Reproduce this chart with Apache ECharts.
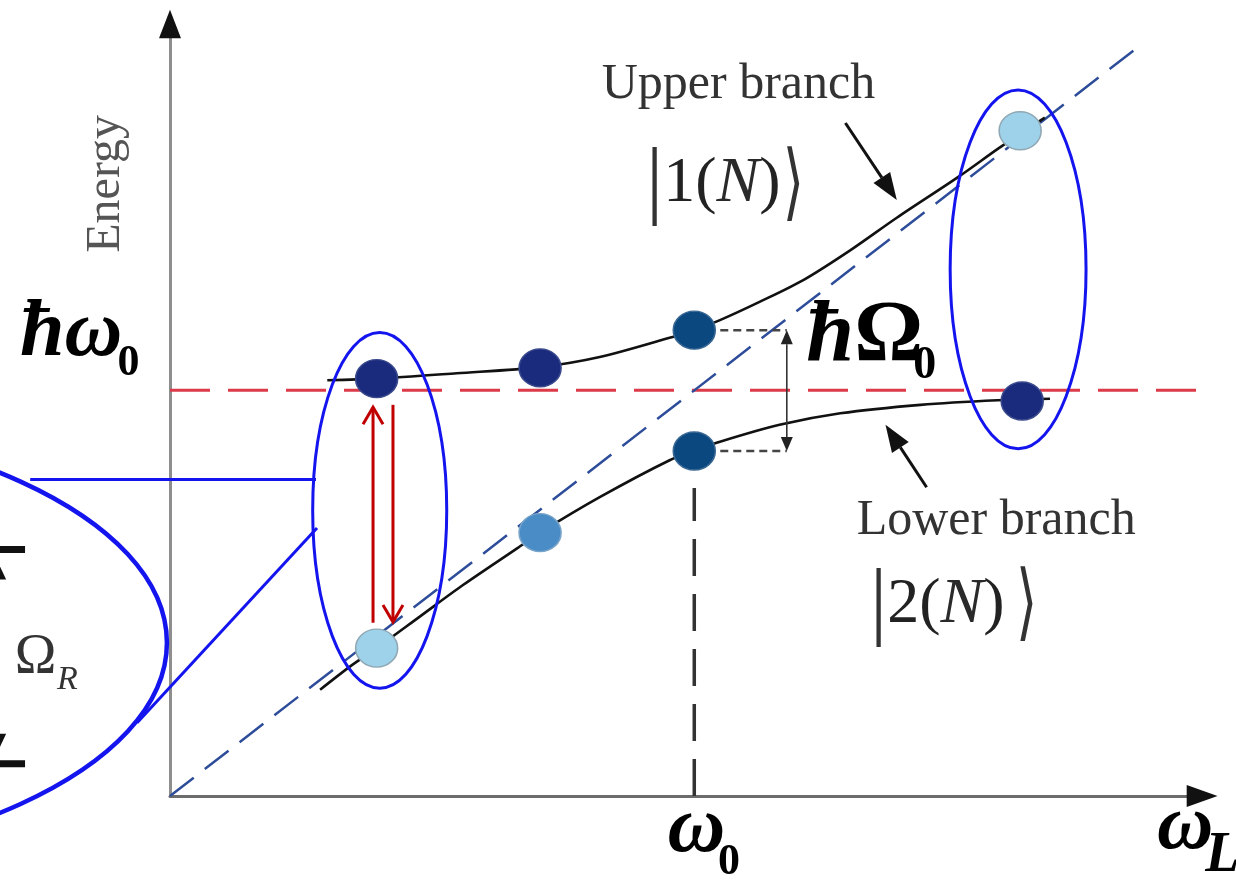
<!DOCTYPE html>
<html>
<head>
<meta charset="utf-8">
<title>Dressed-state anticrossing: upper and lower branch</title>
<script src="https://cdn.jsdelivr.net/npm/echarts@6.0.0/dist/echarts.min.js"></script>
<style>
  html, body { margin: 0; padding: 0; background: #ffffff; }
  #main { width: 1236px; height: 880px; }
</style>
</head>
<body>
<div id="main"></div>
<script>
// ---------------- data (x: laser frequency ω_L, y: energy, arbitrary units) ----------------
const omega0 = 5.10;            // bare transition frequency ω0
const hbarOmega0 = 5.27;        // bare level ħω0

const upperBranch = [
  [1.53, 5.40], [2.01, 5.42], [2.79, 5.49], [3.60, 5.57], [4.18, 5.70], [4.86, 5.95],
  [5.10, 6.05], [5.35, 6.18], [5.74, 6.42], [6.16, 6.70], [6.62, 7.09], [7.07, 7.51],
  [7.68, 8.05], [8.07, 8.42], [8.51, 8.81]
];
const lowerBranch = [
  [1.46, 1.38], [1.75, 1.68], [2.01, 1.92], [2.43, 2.33], [2.85, 2.74], [3.38, 3.22],
  [3.60, 3.42], [4.18, 3.88], [4.86, 4.36], [5.10, 4.48], [5.35, 4.60], [5.93, 4.82],
  [6.52, 4.97], [7.30, 5.08], [8.05, 5.14], [8.56, 5.16]
];
const photonLine = [[0, 0], [9.42, 9.73]];
const levelLine = [[0, hbarOmega0], [10.21, hbarOmega0]];
const omega0Guide = [[omega0, 0], [omega0, 4.0]];

// dressed states marked on each branch, with their excitonic weight
const upperStates = [[2.01, 5.42], [3.60, 5.56], [omega0, 6.05], [8.27, 8.64]];
const upperWeights = [0.95, 0.85, 0.5, 0.05];
const lowerStates = [[2.01, 1.92], [3.60, 3.42], [omega0, 4.48], [8.29, 5.13]];
const lowerWeights = [0.05, 0.3, 0.5, 0.95];

// splitting ħΩ0 at resonance: marker x, upper level, lower level
const splitX = 6.00;
const splitTop = upperStates[2][1];
const splitBottom = lowerStates[2][1];

// highlighted state pairs [cx, cy, rx, ry] and the enlarged view
const stateRings = [[2.04, 3.71, 0.652, 2.31], [8.25, 6.84, 0.661, 2.33]];
const zoomRing = [[-4.89, 1.99, 4.86, 2.96]];
const zoomLeaders = [[-1.36, 4.11, 1.42, 4.11], [-0.32, 0.95, 1.43, 3.48]];

// Rabi oscillation between the two states [x0, y0, x1, y1]
const rabiArrows = [[1.975, 2.25, 1.975, 5.05], [2.169, 5.08, 2.169, 2.26]];
// enlarged Ω_R marker: stem x, top bar, bottom bar, bar left, bar right
const rabiBar = [-1.73, 3.20, 0.42, -1.95, -1.41];

// branch pointers [x0, y0, x1, y1]
const pointers = [[6.57, 8.74, 7.07, 7.74], [7.36, 4.01, 6.96, 4.82]];

// axis arrowheads [baseX, baseY, tipX, tipY]
const axisHeads = [[0, 9.84, 0, 10.21], [9.89, 0, 10.19, 0]];

// text
const labelText = ['Energy', 'ħω', '0', 'ħΩ', '0', 'ω', '0', 'ω', 'L',
  'Upper branch', 'Lower branch', '|1(N)', '⟩', '|2(N)', '⟩', 'Ω', 'R'];
const labelAnchors = [[-0.62, 7.95], [-1.46, 6.00], [-0.51, 5.61], [6.19, 5.95], [7.23, 5.58],
  [4.84, -0.44], [5.33, -0.86], [9.60, -0.42], [10.07, -0.79], [4.20, 9.23], [6.68, 3.57],
  [4.63, 7.94], [5.96, 7.90], [6.81, 2.48], [8.23, 2.44], [-1.51, 1.79], [-1.10, 1.50]];

// ---------------- drawing ----------------
const SERIF = '"Liberation Serif", "Times New Roman", serif';
const RING_BLUE = '#1414ee';

function shade(w) {
  if (w >= 0.7) return { fill: '#1a2a7c', edge: '#3a4a8c' };
  if (w >= 0.45) return { fill: '#0b4880', edge: '#3a6894' };
  if (w >= 0.2) return { fill: '#4a8dc6', edge: '#79a4c9' };
  return { fill: '#9ed2eb', edge: '#90a8b4' };
}

function dotData(points, weights) {
  return points.map((p, i) => {
    const s = shade(weights[i]);
    return { value: p, itemStyle: { color: s.fill, borderColor: s.edge, borderWidth: 1.5, opacity: 1 } };
  });
}

// arrowhead triangle in pixel space: tip, two base corners, base centre
function head(p0, p1, len, half) {
  const dx = p1[0] - p0[0], dy = p1[1] - p0[1];
  const L = Math.hypot(dx, dy) || 1;
  const ux = dx / L, uy = dy / L;
  const bx = p1[0] - ux * len, by = p1[1] - uy * len;
  return {
    pts: [[p1[0], p1[1]], [bx - uy * half, by + ux * half], [bx + uy * half, by - ux * half]],
    base: [bx, by]
  };
}

const labelStyles = [
  { font: '48px ' + SERIF, fill: '#555', align: 'center', rotation: Math.PI / 2 },
  { font: 'italic bold 80px ' + SERIF, fill: '#000' },
  { font: 'bold 44px ' + SERIF, fill: '#000' },
  { hbarOmega: true },
  { font: 'bold 46px ' + SERIF, fill: '#000' },
  { font: 'italic bold 80px ' + SERIF, fill: '#000' },
  { font: 'bold 44px ' + SERIF, fill: '#000' },
  { font: 'italic bold 78px ' + SERIF, fill: '#000' },
  { font: 'italic bold 56px ' + SERIF, fill: '#000' },
  { font: '50px ' + SERIF, fill: '#333' },
  { font: '50px ' + SERIF, fill: '#333' },
  { ket: true },
  { font: '84px "DejaVu Sans", sans-serif', fill: '#333', scaleX: 0.65 },
  { ket: true },
  { font: '84px "DejaVu Sans", sans-serif', fill: '#333', scaleX: 0.65 },
  { font: '56px ' + SERIF, fill: '#333' },
  { font: 'italic 34px ' + SERIF, fill: '#333' }
];

function ketRich(s) {
  const m = s.match(/^\|(\d)\((N)\)$/);
  return '{bar||}{num|' + m[1] + '(}{it|' + m[2] + '}{num|)}';
}

const ketRichStyles = {
  bar: { fontSize: 86, fontFamily: SERIF, fill: '#333', verticalAlign: 'middle' },
  num: { fontSize: 64, fontFamily: SERIF, fill: '#222', verticalAlign: 'middle' },
  it: { fontSize: 64, fontFamily: SERIF, fontStyle: 'italic', fill: '#2a2a2a', verticalAlign: 'middle' }
};

const option = {
  animation: false,
  backgroundColor: '#ffffff',
  grid: { left: 170, right: 38, top: 26, bottom: 84 },
  xAxis: {
    type: 'value', min: 0, max: 10,
    axisLine: { show: true, onZero: false, lineStyle: { color: '#6c6c6c', width: 3 } },
    axisTick: { show: false }, axisLabel: { show: false }, splitLine: { show: false }
  },
  yAxis: {
    type: 'value', min: 0, max: 10,
    axisLine: { show: true, onZero: false, lineStyle: { color: '#8e8e8e', width: 3 } },
    axisTick: { show: false }, axisLabel: { show: false }, splitLine: { show: false }
  },
  series: [
    {
      name: 'ħω0', type: 'line', data: levelLine, symbol: 'none', clip: false, silent: true, z: 1,
      lineStyle: { color: '#dc3a48', width: 3, type: [40, 18] }
    },
    {
      name: 'photon', type: 'line', data: photonLine, symbol: 'none', clip: false, silent: true, z: 1,
      lineStyle: { color: '#2d4c9a', width: 2.5, type: [30, 14] }
    },
    {
      name: 'ω0', type: 'line', data: omega0Guide, symbol: 'none', clip: false, silent: true, z: 1,
      lineStyle: { color: '#333333', width: 3.5, type: [37, 18] }
    },
    {
      name: 'Upper branch', type: 'line', data: upperBranch, smooth: 0.3,
      symbol: 'none', clip: false, silent: true, z: 2, lineStyle: { color: '#111111', width: 2.6 }
    },
    {
      name: 'Lower branch', type: 'line', data: lowerBranch, smooth: 0.3,
      symbol: 'none', clip: false, silent: true, z: 2, lineStyle: { color: '#111111', width: 2.6 }
    },
    {
      // splitting marker: dashed level ties and double-headed arrow
      name: 'splitting', type: 'custom', clip: false, silent: true, z: 3,
      data: [[splitX, splitTop, splitBottom]],
      renderItem(params, api) {
        const top = api.coord([omega0, api.value(1)]);
        const topEnd = api.coord([api.value(0), api.value(1)]);
        const bot = api.coord([omega0, api.value(2)]);
        const botEnd = api.coord([api.value(0), api.value(2)]);
        const up = head(botEnd, topEnd, 14, 6);
        const down = head(topEnd, botEnd, 14, 6);
        const dash = { stroke: '#444', lineWidth: 2.5, lineDash: [8, 5] };
        return {
          type: 'group', children: [
            { type: 'line', shape: { x1: top[0], y1: top[1], x2: topEnd[0], y2: topEnd[1] }, style: dash },
            { type: 'line', shape: { x1: bot[0], y1: bot[1], x2: botEnd[0], y2: botEnd[1] }, style: dash },
            { type: 'line', shape: { x1: up.base[0], y1: up.base[1], x2: down.base[0], y2: down.base[1] }, style: { stroke: '#333', lineWidth: 1.6 } },
            { type: 'polygon', shape: { points: up.pts }, style: { fill: '#222' } },
            { type: 'polygon', shape: { points: down.pts }, style: { fill: '#222' } }
          ]
        };
      }
    },
    {
      name: 'rings', type: 'custom', clip: false, silent: true, z: 4,
      data: stateRings.concat(zoomRing),
      renderItem(params, api) {
        const c = api.coord([api.value(0), api.value(1)]);
        const s = api.size([api.value(2), api.value(3)]);
        const big = params.dataIndex >= stateRings.length;
        return {
          type: 'ellipse', shape: { cx: c[0], cy: c[1], rx: s[0], ry: s[1] },
          style: { fill: 'none', stroke: RING_BLUE, lineWidth: big ? 4.5 : 3 }
        };
      }
    },
    {
      name: 'leaders', type: 'custom', clip: false, silent: true, z: 4,
      data: zoomLeaders,
      renderItem(params, api) {
        const a = api.coord([api.value(0), api.value(1)]);
        const b = api.coord([api.value(2), api.value(3)]);
        return { type: 'line', shape: { x1: a[0], y1: a[1], x2: b[0], y2: b[1] }, style: { stroke: RING_BLUE, lineWidth: 3 } };
      }
    },
    {
      name: 'Rabi', type: 'custom', clip: false, silent: true, z: 5,
      data: rabiArrows,
      renderItem(params, api) {
        const a = api.coord([api.value(0), api.value(1)]);
        const b = api.coord([api.value(2), api.value(3)]);
        const h = head(a, b, 17, 10);
        return {
          type: 'group', children: [
            { type: 'line', shape: { x1: a[0], y1: a[1], x2: b[0], y2: b[1] }, style: { stroke: '#c00000', lineWidth: 3 } },
            { type: 'polyline', shape: { points: [h.pts[1], h.pts[0], h.pts[2]] }, style: { stroke: '#c00000', lineWidth: 3, fill: 'none' } }
          ]
        };
      }
    },
    {
      name: 'Ω_R bar', type: 'custom', clip: false, silent: true, z: 5,
      data: [rabiBar],
      renderItem(params, api) {
        const x = api.value(0);
        const t = api.coord([x, api.value(1)]);
        const b = api.coord([x, api.value(2)]);
        const tl = api.coord([api.value(3), api.value(1)]);
        const tr = api.coord([api.value(4), api.value(1)]);
        const bl = api.coord([api.value(3), api.value(2)]);
        const br = api.coord([api.value(4), api.value(2)]);
        const upH = head(b, t, 30, 14);
        const dnH = head(t, b, 30, 14);
        const bar = { stroke: '#111', lineWidth: 7 };
        return {
          type: 'group', children: [
            { type: 'line', shape: { x1: tl[0], y1: tl[1], x2: tr[0], y2: tr[1] }, style: bar },
            { type: 'line', shape: { x1: bl[0], y1: bl[1], x2: br[0], y2: br[1] }, style: bar },
            { type: 'line', shape: { x1: upH.base[0], y1: upH.base[1], x2: dnH.base[0], y2: dnH.base[1] }, style: { stroke: '#111', lineWidth: 3 } },
            { type: 'polygon', shape: { points: upH.pts }, style: { fill: '#111' } },
            { type: 'polygon', shape: { points: dnH.pts }, style: { fill: '#111' } }
          ]
        };
      }
    },
    {
      name: 'pointers', type: 'custom', clip: false, silent: true, z: 5,
      data: pointers,
      renderItem(params, api) {
        const a = api.coord([api.value(0), api.value(1)]);
        const b = api.coord([api.value(2), api.value(3)]);
        const h = head(a, b, 27, 10);
        return {
          type: 'group', children: [
            { type: 'line', shape: { x1: a[0], y1: a[1], x2: h.base[0], y2: h.base[1] }, style: { stroke: '#111', lineWidth: 3 } },
            { type: 'polygon', shape: { points: h.pts }, style: { fill: '#111' } }
          ]
        };
      }
    },
    {
      name: 'axis heads', type: 'custom', clip: false, silent: true, z: 5,
      data: axisHeads,
      renderItem(params, api) {
        const a = api.coord([api.value(0), api.value(1)]);
        const b = api.coord([api.value(2), api.value(3)]);
        const h = head(a, b, Math.hypot(b[0] - a[0], b[1] - a[1]), 11);
        return { type: 'polygon', shape: { points: h.pts }, style: { fill: '#111' } };
      }
    },
    {
      name: 'Upper states', type: 'scatter', data: dotData(upperStates, upperWeights),
      symbol: 'circle', symbolSize: [42, 38], clip: false, silent: true, z: 6,
      itemStyle: { opacity: 1 }
    },
    {
      name: 'Lower states', type: 'scatter', data: dotData(lowerStates, lowerWeights),
      symbol: 'circle', symbolSize: [42, 38], clip: false, silent: true, z: 6,
      itemStyle: { opacity: 1 }
    },
    {
      name: 'labels', type: 'custom', clip: false, silent: true, z: 7,
      data: labelAnchors,
      renderItem(params, api) {
        const i = params.dataIndex;
        const p = api.coord([api.value(0), api.value(1)]);
        const st = labelStyles[i];
        const style = { align: st.align || 'left', verticalAlign: 'middle' };
        if (st.ket) {
          style.text = ketRich(labelText[i]);
          style.rich = ketRichStyles;
        } else if (st.hbarOmega) {
          const s = labelText[i];
          style.text = '{h|' + s.charAt(0) + '}{o|' + s.slice(1) + '}';
          style.rich = {
            h: { fontSize: 86, fontFamily: SERIF, fontStyle: 'italic', fontWeight: 'bold', fill: '#000', verticalAlign: 'middle' },
            o: { fontSize: 86, fontFamily: SERIF, fontWeight: 'bold', fill: '#000', verticalAlign: 'middle' }
          };
        } else {
          style.text = labelText[i];
          style.font = st.font;
          style.fill = st.fill;
        }
        return {
          type: 'text', x: p[0], y: p[1], rotation: st.rotation || 0,
          scaleX: st.scaleX || 1, style
        };
      }
    }
  ]
};

const chart = echarts.init(document.getElementById('main'), null, { renderer: 'canvas' });
chart.setOption(option);
</script>
</body>
</html>
